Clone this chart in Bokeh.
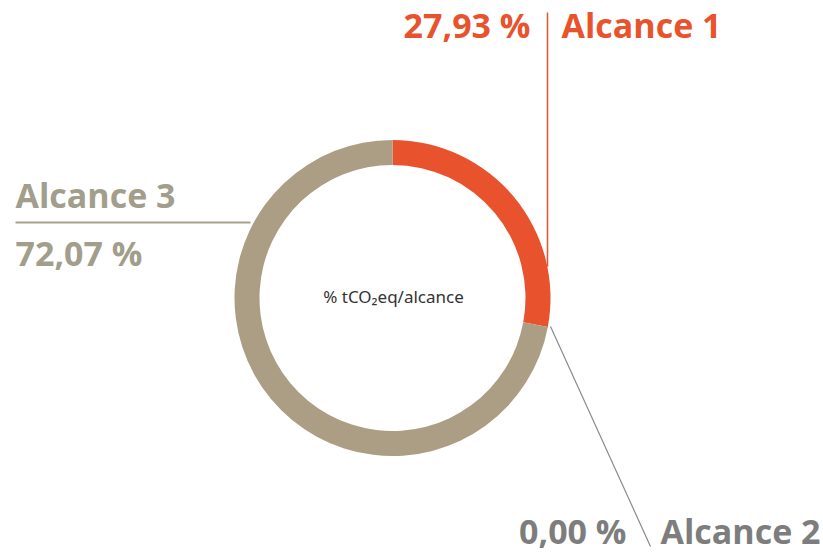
import math
from bokeh.plotting import figure
from bokeh.models import Range1d
from bokeh.core.properties import value
from bokeh.embed import file_html
from bokeh.resources import INLINE

# ---- data ----
categories = ["Alcance 1", "Alcance 2", "Alcance 3"]
values = [27.93, 0.00, 72.07]
center_label = "% tCO\u2082eq/alcance"

# ---- style ----
colors = ["#E8532E", "#8A8A8A", "#AB9E84"]
text_colors = ["#E8532E", "#7D7D7D", "#A29E8C"]
FONT = "Open Sans"
FS = "34px"
OFF = 14  # baseline correction for large labels
OFF_S = 7  # baseline correction for centre label

W, H = 823, 553


def Y(ys):
    # screen y -> data y
    return H - ys


p = figure(width=W, height=H, output_backend="svg", toolbar_location=None,
           x_range=Range1d(0, W), y_range=Range1d(0, H),
           min_border=0)
p.axis.visible = False
p.grid.visible = False
p.outline_line_color = None
p.background_fill_color = "white"
p.border_fill_color = "white"

cx, cy = 392, 297.5
r_out, r_in = 158, 133

total = sum(values)
cum = 0.0
starts, ends, cols = [], [], []
for v, c in zip(values, colors):
    a0 = math.pi / 2 - 2 * math.pi * cum / total
    cum += v
    a1 = math.pi / 2 - 2 * math.pi * cum / total
    if v > 0:
        starts.append(a0)
        ends.append(a1)
        cols.append(c)

p.annular_wedge(x=[cx] * len(starts), y=[Y(cy)] * len(starts),
                inner_radius=r_in, outer_radius=r_out,
                start_angle=starts, end_angle=ends, direction="clock",
                fill_color=cols, line_color=None)


def fmt(v):
    return f"{v:.2f}".replace(".", ",") + " %"


# leader lines
p.line(x=[547, 547], y=[Y(12), Y(266)], line_color=colors[0], line_width=1.5)
p.line(x=[15, 250], y=[Y(222), Y(222)], line_color="#A9A18C", line_width=2)
p.line(x=[550, 650], y=[Y(326), Y(546)], line_color="#8A8A8A", line_width=1.2)

TB = "bold"


def label(x, y, txt, color, align):
    p.text(x=[x], y=[Y(y - OFF)], text=[txt], text_color=color,
           text_font=value(FONT), text_font_size=FS, text_font_style=TB,
           text_align=align, text_baseline="alphabetic")


label(530, 38, fmt(values[0]), text_colors[0], "right")
label(561, 38, categories[0], text_colors[0], "left")
label(15, 208, categories[2], text_colors[2], "left")
label(15, 266, fmt(values[2]), text_colors[2], "left")
label(626, 544, fmt(values[1]), text_colors[1], "right")
label(660, 544, categories[1], text_colors[1], "left")

p.text(x=[393], y=[Y(303 - OFF_S)], text=[center_label], text_color="#333333",
       text_font=value("Noto Sans"), text_font_size="17px", text_align="center",
       text_baseline="alphabetic")

open("out.html", "w").write(file_html(p, INLINE))
